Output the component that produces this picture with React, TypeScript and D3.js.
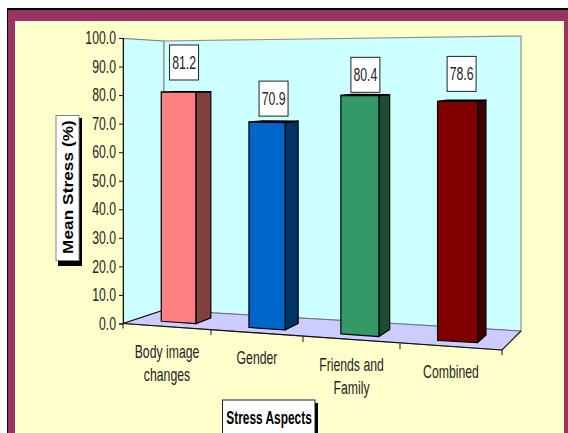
import React, { useRef, useEffect } from 'react';
import * as d3 from 'd3';

const categories = [['Body image', 'changes'], ['Gender'], ['Friends and', 'Family'], ['Combined']];
const values = [81.2, 70.9, 80.4, 78.6];
const frontColors = ['#FF8080', '#0066CC', '#339966', '#800000'];
const sideColors = ['#804040', '#003366', '#1A4D33', '#400000'];
const yTicks = [0, 10, 20, 30, 40, 50, 60, 70, 80, 90, 100];

const W = 568;
const H = 433;
const SANS = '"Liberation Sans", Arial, sans-serif';
const TEXT = '#222';
const FONT_SIZE = 17.5;
const NARROW = 0.7; // no Arial Narrow installed, squeeze the sans instead

// floor corners, the chart is a tilted 3D excel chart
const bandIdx = [0, 1, 2, 3, 4];
const frontX = d3.scaleLinear().domain(bandIdx).range([123, 211, 303, 400, 502]);
const backX = d3.scaleLinear().domain(bandIdx).range([164, 247, 334, 425, 521]);
const frontY = d3.scaleLinear().domain(bandIdx).range([323.5, 330, 337, 344, 350]);
const backY = d3.scaleLinear().domain(bandIdx).range([310, 315, 320, 326, 331]);
// pixels per percent at the front and at the back of the floor
const frontK = d3.scaleLinear().domain([0, 4]).range([2.85, 3.15]);
const backK = d3.scaleLinear().domain([0, 4]).range([2.69, 2.95]);
const yScale = d3.scaleLinear().domain([0, 100]).range([323.5, 38]);

// u = position along the category axis, d = depth 0..1, v = value
const project = (u: number, d: number, v: number): [number, number] => {
  const x = d3.interpolateNumber(frontX(u), backX(u))(d);
  const y = d3.interpolateNumber(frontY(u), backY(u))(d);
  const k = d3.interpolateNumber(frontK(u), backK(u))(d);
  return [x, y - k * v];
};

const poly = (pts: [number, number][]) => d3.line()(pts) + 'Z';

// nudges of the value boxes from the top of their bars
const labelGap = [12, 6, 3, 10];
const labelShift = [5.5, 6.5, 5.5, 4];

const App = () => {
  const svgRef = useRef<SVGSVGElement>(null);

  useEffect(() => {
    const svg = d3.select(svgRef.current);
    svg.selectAll('*').remove();

    const narrowText = (x: number, y: number, str: string, scale = NARROW) =>
      svg.append('text')
        .attr('transform', `translate(${x},${y}) scale(${scale},1)`)
        .attr('dy', '0.36em')
        .attr('text-anchor', 'middle')
        .attr('font-family', SANS).attr('font-size', FONT_SIZE).attr('fill', TEXT)
        .text(str);

    // frame
    svg.append('rect').attr('x', 7).attr('y', 8).attr('width', W - 7).attr('height', H - 8).attr('fill', '#000');
    svg.append('rect').attr('x', 8).attr('y', 10).attr('width', W - 8).attr('height', H - 10).attr('fill', '#993366');
    svg.append('rect').attr('x', 15).attr('y', 21).attr('width', 549).attr('height', H - 21).attr('fill', '#FFFFCC');

    // side wall, back wall, floor
    svg.append('path')
      .attr('d', poly([project(0, 0, 0), project(0, 0, 100), project(0, 1, 100), project(0, 1, 0)]))
      .attr('fill', '#CCFFFF').attr('stroke', '#808080').attr('stroke-width', 1.2);
    svg.append('path')
      .attr('d', poly([project(0, 1, 0), project(0, 1, 100), project(4, 1, 100), project(4, 1, 0)]))
      .attr('fill', '#CCFFFF').attr('stroke', '#909090').attr('stroke-width', 1.2);
    svg.append('path')
      .attr('d', poly([project(0, 0, 0), project(0, 1, 0), project(4, 1, 0), project(4, 0, 0)]))
      .attr('fill', '#CCCCFF').attr('stroke', '#707070').attr('stroke-width', 1);

    // front and right floor edges
    svg.append('path')
      .attr('d', d3.line()([project(0, 0, 0), project(4, 0, 0), project(4, 1, 0)]))
      .attr('fill', 'none').attr('stroke', '#111').attr('stroke-width', 1.2);
    svg.append('path')
      .attr('d', d3.line()([project(0, 1, 0), project(0, 0, 0)]))
      .attr('fill', 'none').attr('stroke', '#111').attr('stroke-width', 1);

    // category ticks
    svg.selectAll('.xtick').data(bandIdx).enter().append('line')
      .attr('class', 'xtick')
      .attr('x1', d => frontX(d)).attr('x2', d => frontX(d))
      .attr('y1', d => frontY(d)).attr('y2', d => frontY(d) + 5)
      .attr('stroke', '#111');

    // y axis
    const axis = svg.append('g')
      .attr('transform', 'translate(123,0)')
      .call(d3.axisLeft(yScale).tickValues(yTicks).tickSize(4).tickPadding(3).tickFormat(d3.format('.1f')) as any);
    axis.selectAll('path, line').attr('stroke', '#111');
    axis.selectAll('text')
      .attr('x', -7 / NARROW)
      .attr('transform', `scale(${NARROW},1)`)
      .attr('font-family', SANS).attr('font-size', FONT_SIZE).attr('fill', TEXT);

    // bars
    values.forEach((v, i) => {
      const u0 = i + 0.3;
      const u1 = i + 0.7;
      const d0 = 0.3;
      const d1 = 0.7;
      const g = svg.append('g').attr('stroke', '#000').attr('stroke-width', 1.2).attr('stroke-linejoin', 'round');
      g.append('path')
        .attr('d', poly([project(u1, d0, 0), project(u1, d0, v), project(u1, d1, v), project(u1, d1, 0)]))
        .attr('fill', sideColors[i]);
      g.append('path')
        .attr('d', poly([project(u0, d0, v), project(u0, d1, v), project(u1, d1, v), project(u1, d0, v)]))
        .attr('fill', '#111');
      g.append('path')
        .attr('d', poly([project(u0, d0, 0), project(u0, d0, v), project(u1, d0, v), project(u1, d0, 0)]))
        .attr('fill', frontColors[i]);

      // value box
      const [xl, yTop] = project(u0, d0, v);
      const [xr] = project(u1, d0, v);
      const cx = (xl + xr) / 2 + labelShift[i];
      const bottom = yTop - labelGap[i];
      svg.append('rect')
        .attr('x', cx - 14.5).attr('y', bottom - 35).attr('width', 29).attr('height', 35)
        .attr('fill', '#fff').attr('stroke', '#222').attr('stroke-width', 1);
      narrowText(cx, bottom - 17.5, d3.format('.1f')(v));
    });

    // category labels
    categories.forEach((lines, i) => {
      const cx = frontX(i + 0.5);
      const top = frontY(i + 0.5) + 24.5;
      lines.forEach((line, j) => {
        narrowText(cx, top + j * 23, line);
      });
    });

    // y title
    svg.append('rect').attr('x', 58).attr('y', 118).attr('width', 24).attr('height', 148).attr('fill', '#000');
    svg.append('rect').attr('x', 56).attr('y', 115.5).attr('width', 23).attr('height', 145)
      .attr('fill', '#fff').attr('stroke', '#808080');
    svg.append('text')
      .attr('transform', 'translate(68,187) rotate(-90) scale(1.18,1)')
      .attr('dy', '0.36em').attr('text-anchor', 'middle')
      .attr('font-family', SANS).attr('font-weight', 'bold')
      .attr('font-size', 14.5).attr('letter-spacing', 0.1).attr('fill', '#000')
      .text('Mean Stress (%)');

    // x title
    svg.append('rect').attr('x', 225).attr('y', 403).attr('width', 93).attr('height', 40).attr('fill', '#000');
    svg.append('rect').attr('x', 222.5).attr('y', 400).attr('width', 92.5).attr('height', 40)
      .attr('fill', '#fff').attr('stroke', '#222');
    narrowText(269, 418, 'Stress Aspects', 0.68)
      .attr('font-weight', 'bold').attr('fill', '#000');
  }, []);

  return <svg ref={svgRef} width={W} height={H} style={{ position: 'absolute', left: 0, top: 0 }} />;
};

export default App;
